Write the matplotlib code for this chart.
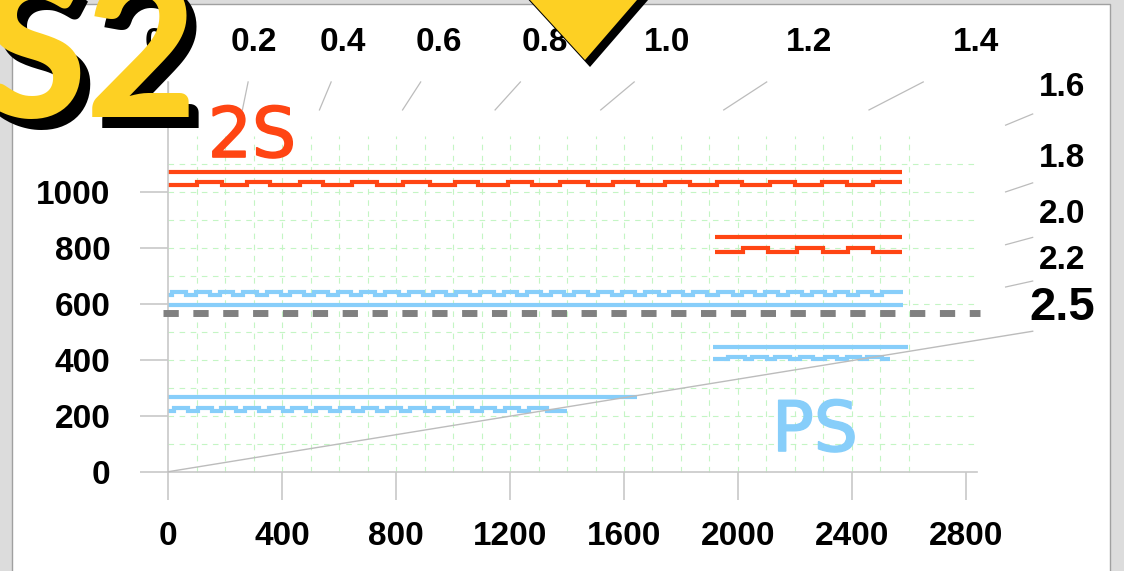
import numpy as np
import matplotlib
matplotlib.use("Agg")
import matplotlib.pyplot as plt
from matplotlib.patches import Rectangle, Polygon
import matplotlib.patheffects as pe

plt.rcParams['font.family'] = ['Liberation Sans', 'DejaVu Sans']

# ---- 2S branch (red) ----
red_top_y = 1071
red_top_span = (0, 2576)
red_step_levels = (1024, 1036)
red_step_span = (0, 2576)
red_step_bumps = [(100, 187), (275, 357), (463, 543), (644, 732), (824, 919),
                  (1006, 1087), (1192, 1276), (1375, 1474), (1561, 1649),
                  (1744, 1832), (1926, 2014), (2113, 2200), (2295, 2383),
                  (2474, 2576)]
red_right_y = 837
red_right_span = (1919, 2575)
red_right_levels = (786, 798)
red_right_bumps = [(2018, 2106), (2207, 2299), (2387, 2475)]

# ---- PS branch (blue) ----
blue_top_levels = (631, 643)
blue_top_span = (0, 2580)
blue_top_bumps = [(14, 62), (97, 145), (180, 228), (263, 311), (346, 394),
                  (429, 477), (512, 560), (595, 643), (678, 726), (762, 810),
                  (845, 893), (928, 976), (1011, 1059), (1094, 1142),
                  (1177, 1225), (1260, 1308), (1343, 1391), (1426, 1474),
                  (1509, 1557), (1592, 1640), (1675, 1723), (1758, 1806),
                  (1842, 1890), (1930, 1983), (2014, 2060), (2095, 2141),
                  (2176, 2225), (2260, 2306), (2341, 2387), (2422, 2471),
                  (2506, 2580)]
blue_mid_y = 595
blue_mid_span = (0, 2580)
blue_right_y = 446
blue_right_span = (1913, 2597)
blue_right_levels = (401, 411)
blue_right_span_step = (1913, 2534)
blue_right_bumps = [(1966, 2026), (2050, 2102), (2131, 2183), (2218, 2264),
                    (2306, 2348), (2383, 2429), (2453, 2506)]
blue_low_y = 266
blue_low_span = (0, 1645)
blue_low_levels = (218, 229)
blue_low_span_step = (0, 1400)
blue_low_bumps = [(20, 70), (104, 152), (186, 236), (270, 318), (352, 402),
                  (436, 484), (518, 568), (602, 650), (684, 734), (768, 816),
                  (850, 900), (934, 982), (1016, 1066), (1100, 1148),
                  (1182, 1232), (1266, 1330)]

threshold_y = 567
threshold_span = (-18, 2850)

# rapidity-style guide lines: x = y * sinh(v)
ratio_labels = [0.0, 0.2, 0.4, 0.6, 0.8, 1.0, 1.2, 1.4, 1.6, 1.8, 2.0, 2.2]
diag_label = 2.5

x_ticks = [0, 400, 800, 1200, 1600, 2000, 2400, 2800]
y_ticks = [0, 200, 400, 600, 800, 1000]

RED = '#ff4513'
BLUE = '#87cefa'
GRID = '#c4f5c4'
AXIS = '#c8c8c8'
GUIDE = '#bcbcbc'
YELLOW = '#fdd023'


def step_path(span, levels, bumps):
    lo, hi = levels
    xs, ys = [span[0]], [lo]
    for a, b in bumps:
        xs.append(a)
        ys.append(hi)
        if b < span[1]:
            xs.append(b)
            ys.append(lo)
    xs.append(span[1])
    ys.append(ys[-1])
    return xs, ys


W, H = 1124, 571
fig = plt.figure(figsize=(W / 100, H / 100), dpi=100)
fig.patch.set_facecolor('#dcdcdc')
fig.patches.append(Rectangle((12 / W, -0.02), 1098 / W, (H - 4) / H + 0.02,
                             transform=fig.transFigure, facecolor='white',
                             edgecolor='#a0a0a0', lw=1.0, zorder=-10))

# data axes spanning the whole canvas, origin placed by the limits
x0_px, x_scale = 168.3, 0.2848
y0_px, y_scale = 471.7, 0.28
ax = fig.add_axes([0, 0, 1, 1], zorder=1)
ax.set_xlim(-x0_px / x_scale, (W - x0_px) / x_scale)
ax.set_ylim((y0_px - H) / y_scale, y0_px / y_scale)
ax.patch.set_alpha(0)

for side in ['top', 'right']:
    ax.spines[side].set_visible(False)
ax.spines['left'].set_position(('data', 0))
ax.spines['bottom'].set_position(('data', 0))
ax.spines['left'].set_bounds(0, 1392)
ax.spines['bottom'].set_bounds(0, 2840)
for side in ['left', 'bottom']:
    ax.spines[side].set_color(AXIS)
    ax.spines[side].set_linewidth(1.2)

ax.set_xticks(x_ticks)
ax.set_yticks(y_ticks)
ax.tick_params(axis='x', direction='out', length=20.5, width=1.2, color=AXIS,
               pad=15, labelsize=24)
ax.tick_params(axis='y', direction='out', length=20.5, width=1.2, color=AXIS,
               pad=21, labelsize=24)
for lab in ax.get_xticklabels() + ax.get_yticklabels():
    lab.set_fontweight('bold')

# dashed green grid
ax.vlines(np.arange(100, 2700, 100), 0, 1200, colors=GRID, lw=0.8,
          linestyles=(0, (5, 5)), zorder=0.5)
ax.hlines(np.arange(100, 1200, 100), 0, 2840, colors=GRID, lw=0.8,
          linestyles=(0, (5, 5)), zorder=0.5)

line_kw = dict(lw=3, solid_capstyle='butt', solid_joinstyle='miter', zorder=2)

# red 2S levels
ax.plot(red_top_span, [red_top_y] * 2, color=RED, **line_kw)
xs, ys = step_path(red_step_span, red_step_levels, red_step_bumps)
ax.plot(xs, ys, drawstyle='steps-post', color=RED, **line_kw)
ax.plot(red_right_span, [red_right_y] * 2, color=RED, **line_kw)
xs, ys = step_path(red_right_span, red_right_levels, red_right_bumps)
ax.plot(xs, ys, drawstyle='steps-post', color=RED, **line_kw)

# blue PS levels
xs, ys = step_path(blue_top_span, blue_top_levels, blue_top_bumps)
ax.plot(xs, ys, drawstyle='steps-post', color=BLUE, **line_kw)
ax.plot(blue_mid_span, [blue_mid_y] * 2, color=BLUE, **line_kw)
ax.plot(blue_right_span, [blue_right_y] * 2, color=BLUE, **line_kw)
xs, ys = step_path(blue_right_span_step, blue_right_levels, blue_right_bumps)
ax.plot(xs, ys, drawstyle='steps-post', color=BLUE, **line_kw)
ax.plot(blue_low_span, [blue_low_y] * 2, color=BLUE, **line_kw)
xs, ys = step_path(blue_low_span_step, blue_low_levels, blue_low_bumps)
ax.plot(xs, ys, drawstyle='steps-post', color=BLUE, **line_kw)

# threshold
ax.plot(threshold_span, [threshold_y] * 2, color='#808080', lw=5,
        linestyle=(0, (2.2, 2.1)), dash_capstyle='butt', zorder=3)

# guide stubs and their labels
box_x, box_y = 3035, 1392
for v in ratio_labels:
    s = np.sinh(v)
    if box_y * s <= box_x:
        ax.plot([s * (box_y - 100), s * box_y], [box_y - 100, box_y],
                color=GUIDE, lw=0.9, zorder=1)
        ax.text(1490 * s, 1533, f'{v:.1f}', ha='center', va='center',
                fontsize=24, fontweight='bold')
    else:
        ax.plot([box_x - 95, box_x], [(box_x - 95) / s, box_x / s],
                color=GUIDE, lw=0.9, zorder=1)
        ax.text(3138, 3138 / s + 52, f'{v:.1f}', ha='center', va='center',
                fontsize=24, fontweight='bold')
s = np.sinh(diag_label)
ax.plot([0, box_x], [0, box_x / s], color=GUIDE, lw=1.0, zorder=4)
ax.text(3138, 3138 / s + 66, f'{diag_label:.1f}', ha='center', va='center',
        fontsize=34, fontweight='bold')

# overlay in pixel units for the badge, marker and branch names
ov = fig.add_axes([0, 0, 1, 1], zorder=10)
ov.set_xlim(0, W)
ov.set_ylim(H, 0)
ov.axis('off')

tri = np.array([(511.7, -20), (654.3, -20), (585, 60)])
ov.add_patch(Polygon(tri + (5, 7), closed=True, facecolor='black', lw=0))
ov.add_patch(Polygon(tri, closed=True, facecolor=YELLOW, lw=0))

ov.text(-10, 128, 'S2', color='black', fontsize=138, fontweight='black',
        family='Lato', ha='left', va='baseline')
ov.text(-20, 117, 'S2', color=YELLOW, fontsize=138, fontweight='black',
        family='Lato', ha='left', va='baseline')

thick = [pe.withStroke(linewidth=1.2, foreground=RED)]
ov.text(252, 157, '2S', color=RED, fontsize=50, family='DejaVu Sans',
        ha='center', va='baseline', path_effects=thick)
thick = [pe.withStroke(linewidth=1.2, foreground=BLUE)]
ov.text(815, 451, 'PS', color=BLUE, fontsize=50, family='DejaVu Sans',
        ha='center', va='baseline', path_effects=thick)

fig.savefig('out.png', dpi=100)
